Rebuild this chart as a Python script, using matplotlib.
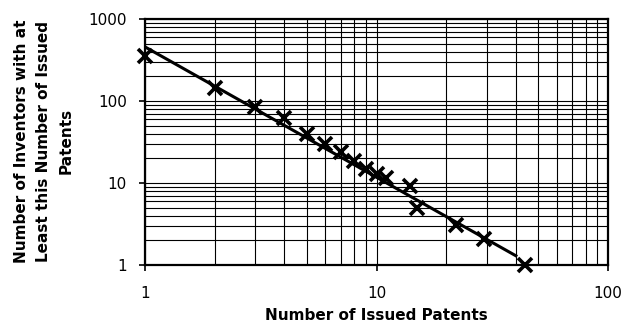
import matplotlib
matplotlib.use("Agg")
import matplotlib.pyplot as plt
import numpy as np
from matplotlib.ticker import LogLocator, FixedLocator, NullFormatter

# Data
patents = [1, 2, 3, 4, 5, 6, 7, 8, 9, 10, 11, 14, 15, 22, 29, 44]
inventors = [355, 144, 85, 62, 40, 30, 24, 18.5, 15, 13, 11.5, 9.2, 5, 3.1, 2.1, 1]
# power-law trend line: y = a * x^b over x range
trend_a = 457
trend_b = -1.59
trend_range = [1, 40]

x_ticks = [1, 10, 100]
x_ticklabels = ["1", "10", "100"]
y_ticks = [1, 10, 100, 1000]
y_ticklabels = ["1", "10", "100", "1000"]

plt.rcParams['font.family'] = ['DejaVu Sans']

fig = plt.figure(figsize=(6.24, 3.32), dpi=100)
ax = fig.add_axes([145/624, 1-265/332, (608-145)/624, (265-19)/332])

ax.set_xscale('log')
ax.set_yscale('log')
ax.set_xlim(1, 100)
ax.set_ylim(1, 1000)

ax.xaxis.set_major_locator(FixedLocator(x_ticks))
ax.yaxis.set_major_locator(FixedLocator(y_ticks))
ax.set_xticklabels(x_ticklabels)
ax.set_yticklabels(y_ticklabels)
ax.xaxis.set_minor_locator(LogLocator(base=10, subs=np.arange(2, 10)))
ax.yaxis.set_minor_locator(LogLocator(base=10, subs=np.arange(2, 10)))
ax.xaxis.set_minor_formatter(NullFormatter())
ax.yaxis.set_minor_formatter(NullFormatter())

ax.grid(True, which='both', color='black', linewidth=0.8)
ax.set_axisbelow(True)

ax.tick_params(axis='both', which='major', direction='out', length=4, width=1.2,
               labelsize=11, pad=9, colors='black')
ax.tick_params(axis='both', which='minor', length=0)
ax.tick_params(axis='x', which='major', pad=11)

for s in ax.spines.values():
    s.set_linewidth(1.6)
    s.set_color('black')

xt = np.linspace(np.log10(trend_range[0]), np.log10(trend_range[1]), 50)
xt = 10 ** xt
ax.plot(xt, trend_a * xt ** trend_b, color='black', linewidth=2.2, zorder=3)
ax.plot(patents, inventors, linestyle='none', marker='x', markersize=10,
        markeredgewidth=2.6, color='black', zorder=4, clip_on=False)

fig.text(376/624, 1-315/332, "Number of Issued Patents", ha='center', va='center',
         fontsize=11, fontweight='bold')
fig.text(44/624, 1-141/332, "Number of Inventors with at\nLeast this Number of Issued\nPatents",
         rotation=90, ha='center', va='center', fontsize=11, fontweight='bold',
         multialignment='center', linespacing=1.6)

fig.savefig("out.png", dpi=100)
